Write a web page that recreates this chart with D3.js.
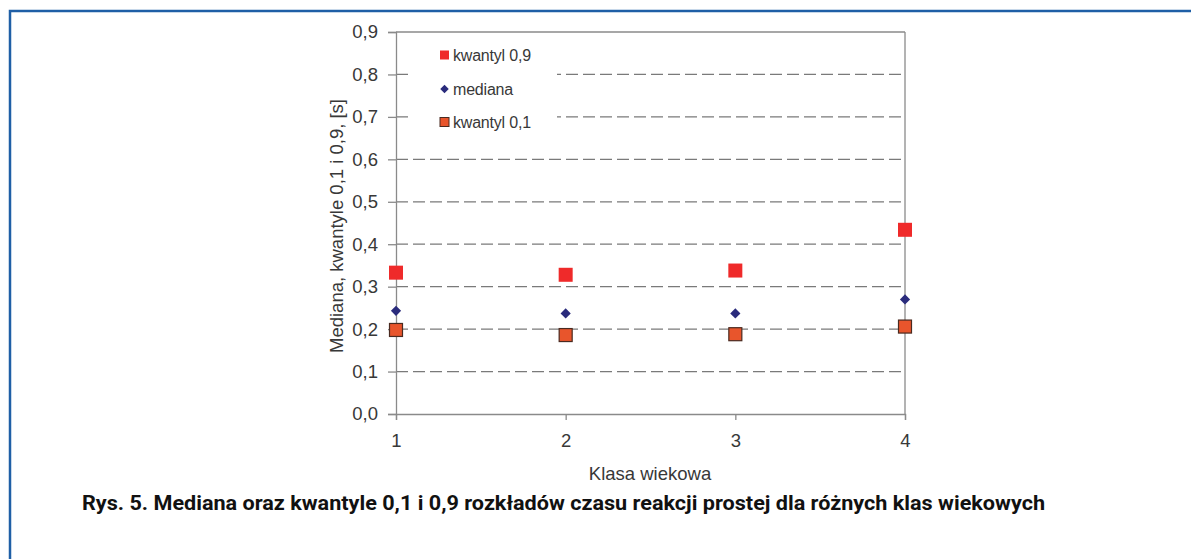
<!DOCTYPE html>
<html><head><meta charset="utf-8">
<script src="https://cdn.jsdelivr.net/npm/d3@7"></script>
<style>html,body{margin:0;padding:0;background:#fff;}svg{display:block;}</style>
</head><body>
<svg id="c" width="1191" height="559"></svg>
<script>
const categories = [1, 2, 3, 4];
const q90 = [0.333, 0.328, 0.338, 0.434];
const median = [0.243, 0.237, 0.237, 0.270];
const q10 = [0.198, 0.186, 0.188, 0.206];
const yTicks = [0, 0.1, 0.2, 0.3, 0.4, 0.5, 0.6, 0.7, 0.8, 0.9];
const legendLabels = ["kwantyl 0,9", "mediana", "kwantyl 0,1"];
const yTitle = "Mediana, kwantyle 0,1 i 0,9, [s]";
const xTitle = "Klasa wiekowa";
const caption = "Rys. 5. Mediana oraz kwantyle 0,1 i 0,9 rozkładów czasu reakcji prostej dla różnych klas wiekowych";

const svg = d3.select("#c");
const font = "'Liberation Sans', Arial, sans-serif";
const txt = "#383838";

// frame
svg.append("path").attr("d", "M10,562 L10,11 L1195,11")
  .attr("fill", "none").attr("stroke", "#1f5fa6").attr("stroke-width", 2.5);

const x = d3.scaleLinear().domain([1, 4]).range([396, 905]);
const y = d3.scaleLinear().domain([0, 0.9]).range([414, 32]);
const fmt = d => d3.format(".1f")(d).replace(".", ",");

// gridlines
const g = svg.append("g");
g.selectAll("line.grid").data(yTicks.filter(t => t > 0 && t < 0.9)).enter().append("line")
  .attr("x1", x(1)).attr("x2", x(4)).attr("y1", d => y(d)).attr("y2", d => y(d))
  .attr("stroke", "#7a7a7a").attr("stroke-width", 1.3).attr("stroke-dasharray", "12,5");
// top and right border
g.append("line").attr("x1", x(1)).attr("x2", x(4)).attr("y1", y(0.9)).attr("y2", y(0.9))
  .attr("stroke", "#8a8a8a").attr("stroke-width", 1.3);
g.append("line").attr("x1", x(4)).attr("x2", x(4)).attr("y1", y(0.9)).attr("y2", y(0))
  .attr("stroke", "#8a8a8a").attr("stroke-width", 1.3);

// legend background covering gridlines
svg.append("rect").attr("x", 408).attr("y", 40).attr("width", 149).attr("height", 100).attr("fill", "#fff");

// axes
const yAxis = d3.axisLeft(y).tickValues(yTicks).tickFormat(fmt).tickSize(8).tickPadding(10);
const ya = svg.append("g").attr("transform", `translate(${x(1)},0)`).call(yAxis);
const xAxis = d3.axisBottom(x).tickValues(categories).tickFormat(d3.format("d")).tickSize(6).tickPadding(14);
const xa = svg.append("g").attr("transform", `translate(0,${y(0)})`).call(xAxis);
[ya, xa].forEach(a => {
  a.select(".domain").attr("stroke", "#8a8a8a").attr("stroke-width", 1.3);
  a.selectAll(".tick line").attr("stroke", "#8a8a8a").attr("stroke-width", 1.3);
  a.selectAll(".tick text").attr("font-family", font).attr("font-size", 18.5).attr("fill", txt);
});

// titles
svg.append("text").attr("x", 650).attr("y", 480).attr("text-anchor", "middle")
  .attr("font-family", font).attr("font-size", 18.5).attr("fill", txt).text(xTitle);
svg.append("text").attr("transform", "translate(343,226) rotate(-90)").attr("text-anchor", "middle")
  .attr("font-family", font).attr("font-size", 18.5).attr("fill", txt).text(yTitle);

// markers
const sq = d3.symbol().type(d3.symbolSquare);
const pts = svg.append("g");
pts.selectAll("rect.q90").data(categories).enter().append("rect")
  .attr("x", (d, i) => x(d) - 7).attr("y", (d, i) => y(q90[i]) - 7)
  .attr("width", 14).attr("height", 14).attr("fill", "#ef2a2a");
pts.selectAll("path.med").data(categories).enter().append("path")
  .attr("d", sq.size(52)).attr("transform", (d, i) => `translate(${x(d)},${y(median[i])}) rotate(45)`)
  .attr("fill", "#2a2b7c");
pts.selectAll("rect.q10").data(categories).enter().append("rect")
  .attr("x", (d, i) => x(d) - 6.5).attr("y", (d, i) => y(q10[i]) - 6.5)
  .attr("width", 13).attr("height", 13).attr("fill", "#e8552c")
  .attr("stroke", "#4a2a20").attr("stroke-width", 1.2);

// legend
const leg = svg.append("g");
const ly = [55, 89, 122];
leg.append("rect").attr("x", 440).attr("y", ly[0] - 4.5).attr("width", 9).attr("height", 9).attr("fill", "#ef2a2a");
leg.append("path").attr("d", sq.size(36)).attr("transform", `translate(444.5,${ly[1]}) rotate(45)`).attr("fill", "#2a2b7c");
leg.append("rect").attr("x", 440).attr("y", ly[2] - 4.5).attr("width", 9).attr("height", 9).attr("fill", "#e8552c")
  .attr("stroke", "#4a2a20").attr("stroke-width", 1);
leg.selectAll("text").data(legendLabels).enter().append("text")
  .attr("x", 453).attr("y", (d, i) => ly[i] + 5.5).attr("font-family", font).attr("font-size", 16)
  .attr("fill", txt).attr("letter-spacing", -0.2).text(d => d);

// caption
svg.append("text").attr("x", 82).attr("y", 510).attr("font-family", "Roboto, sans-serif")
  .attr("font-weight", 700).attr("font-size", 20).attr("fill", "#111")
  .attr("textLength", 963).attr("lengthAdjust", "spacingAndGlyphs").text(caption);
</script>
</body></html>
